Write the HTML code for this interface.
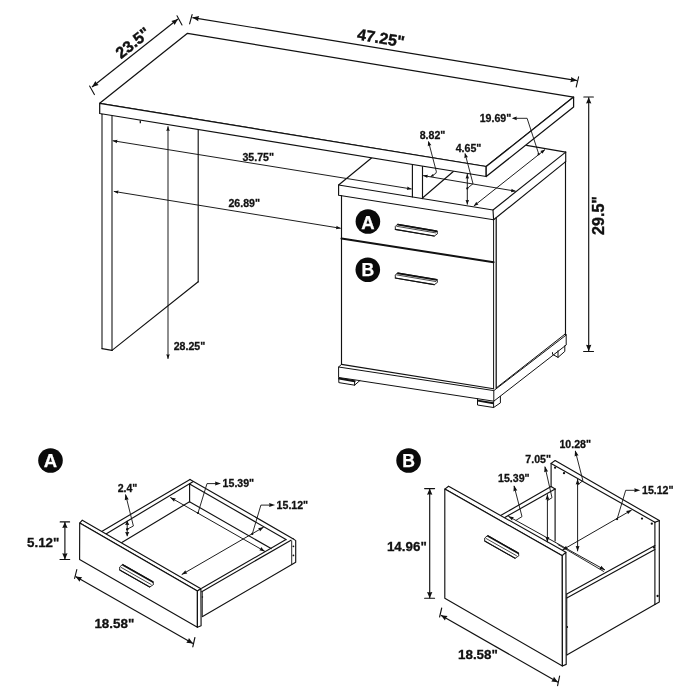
<!DOCTYPE html>
<html lang="en">
<head>
<meta charset="utf-8">
<title>Desk dimensions</title>
<style>
html,body{margin:0;padding:0;background:#fff;}
body{width:700px;height:700px;overflow:hidden;}
svg{display:block;will-change:transform;filter:grayscale(1);}
svg text{font-family:"Liberation Sans",sans-serif;font-weight:700;}
</style>
</head>
<body>
<svg width="700" height="700" viewBox="0 0 700 700">
<rect width="700" height="700" fill="#fff"/>
<path d="M371.8 157.8 L338.6 185 L493 210 L565.7 152.1" fill="none" stroke="#111" stroke-width="1.15" stroke-linejoin="round" stroke-linecap="round"/>
<path d="M338.6 185 L338.6 195.2 L493.6 219.8 L493 210" fill="none" stroke="#111" stroke-width="1.15" stroke-linejoin="round" stroke-linecap="round"/>
<path d="M493.6 219.8 L565.7 161.6 L565.7 152.1" fill="none" stroke="#111" stroke-width="1.15" stroke-linejoin="round" stroke-linecap="round"/>
<line x1="526.6" y1="145.4" x2="565.7" y2="152.1" stroke="#111" stroke-width="1.15" stroke-linecap="round"/>
<line x1="341.5" y1="195.66" x2="341.5" y2="364.4" stroke="#111" stroke-width="1.15" stroke-linecap="round"/>
<line x1="493.6" y1="219.8" x2="493.6" y2="388.8" stroke="#111" stroke-width="1" stroke-linecap="round"/>
<line x1="496.2" y1="217.8" x2="496.2" y2="388" stroke="#111" stroke-width="1.25" stroke-linecap="round"/>
<line x1="565.5" y1="161.6" x2="565.5" y2="334.5" stroke="#111" stroke-width="1.15" stroke-linecap="round"/>
<line x1="341.5" y1="238.6" x2="493.6" y2="262.2" stroke="#111" stroke-width="2" stroke-linecap="round"/>
<line x1="341.5" y1="364.4" x2="493.6" y2="388.8" stroke="#111" stroke-width="1.15" stroke-linecap="round"/>
<path d="M341.5 364.4 L338.6 367 L493.8 390.6 L566.2 335 L565.5 333.8" fill="none" stroke="#111" stroke-width="1" stroke-linejoin="round" stroke-linecap="round"/>
<line x1="496.2" y1="388" x2="565.4" y2="333.8" stroke="#111" stroke-width="1" stroke-linecap="round"/>
<path d="M338.6 367 L338.6 377.5 L359.8 380.6" fill="none" stroke="#111" stroke-width="1" stroke-linejoin="round" stroke-linecap="round"/>
<line x1="359.8" y1="380.7" x2="477.5" y2="398.7" stroke="#111" stroke-width="1" stroke-linecap="round"/>
<path d="M493.8 390.6 L493.8 401.2 L566.2 345 L566.2 335" fill="none" stroke="#111" stroke-width="1" stroke-linejoin="round" stroke-linecap="round"/>
<line x1="477.5" y1="398.7" x2="493.8" y2="401.2" stroke="#111" stroke-width="1" stroke-linecap="round"/>
<path d="M338.8 378 L338.8 382.6 L354.6 385.2 L359.8 380.6" fill="none" stroke="#111" stroke-width="1" stroke-linejoin="round" stroke-linecap="round"/>
<line x1="354.6" y1="381.6" x2="354.6" y2="385.2" stroke="#111" stroke-width="1" stroke-linecap="round"/>
<line x1="339.2" y1="378.6" x2="354.6" y2="381.2" stroke="#111" stroke-width="2" stroke-linecap="round"/>
<path d="M477.5 399.2 L477.5 405 L493.6 407.5 L500.4 402.9 L500.4 396.4" fill="none" stroke="#111" stroke-width="1" stroke-linejoin="round" stroke-linecap="round"/>
<line x1="493.6" y1="402" x2="493.6" y2="407.5" stroke="#111" stroke-width="1" stroke-linecap="round"/>
<line x1="478" y1="400.6" x2="493.4" y2="403.2" stroke="#111" stroke-width="1.9" stroke-linecap="butt"/>
<path d="M552.5 352.6 L552.5 354.3 L558 357.4 L564.8 351.4 L564.8 345.8" fill="none" stroke="#111" stroke-width="1" stroke-linejoin="round" stroke-linecap="round"/>
<line x1="558" y1="350.8" x2="558" y2="357.4" stroke="#111" stroke-width="1" stroke-linecap="round"/>
<line x1="412.4" y1="164.47" x2="412.4" y2="196.95" stroke="#111" stroke-width="1.15" stroke-linecap="round"/>
<line x1="422.5" y1="166.12" x2="422.5" y2="198.58" stroke="#111" stroke-width="1.15" stroke-linecap="round"/>
<line x1="422.5" y1="197.98" x2="453.6" y2="171.19" stroke="#111" stroke-width="1.15" stroke-linecap="round"/>
<line x1="102" y1="114.2" x2="102" y2="348.6" stroke="#222" stroke-width="1.15" stroke-linecap="round"/>
<line x1="112" y1="115.8" x2="112" y2="350.4" stroke="#222" stroke-width="1.15" stroke-linecap="round"/>
<line x1="102" y1="348.6" x2="112" y2="350.4" stroke="#111" stroke-width="1.15" stroke-linecap="round"/>
<line x1="112" y1="350.4" x2="198.2" y2="281.8" stroke="#111" stroke-width="1.15" stroke-linecap="round"/>
<line x1="198.2" y1="129.56" x2="198.2" y2="281.8" stroke="#111" stroke-width="1.15" stroke-linecap="round"/>
<path d="M99.7 103.3 L187.5 33.3 L573.6 97.1 L486.2 166.5 Z" fill="#fff" stroke="#111" stroke-width="1.25" stroke-linejoin="round" stroke-linecap="round"/>
<path d="M99.7 103.3 L99.7 113.5 L486.2 176.5 L486.2 166.5 Z" fill="#fff" stroke="#111" stroke-width="1.25" stroke-linejoin="round" stroke-linecap="round"/>
<path d="M486.2 166.5 L486.2 176.5 L573.6 107.1 L573.6 97.1 Z" fill="#fff" stroke="#111" stroke-width="1.25" stroke-linejoin="round" stroke-linecap="round"/>
<circle cx="367.9" cy="221.5" r="12.3" fill="#0a0a0a"/>
<text x="367.9" y="228.57" font-size="18.5" text-anchor="middle" fill="#fff" stroke="#fff" stroke-width="0.25">A</text>
<circle cx="367.8" cy="269.7" r="12.3" fill="#0a0a0a"/>
<text x="367.8" y="276.15" font-size="17.6" text-anchor="middle" fill="#fff" stroke="#fff" stroke-width="0.25">B</text>
<path d="M397.9 224.3 L436.9 230.9 L437.5 233.7 L434.3 236.1 L395.3 229.5 L395.3 226.9 Z" fill="#fff" stroke="#111" stroke-width="0.9" stroke-linejoin="round" stroke-linecap="round"/>
<line x1="397.9" y1="224.7" x2="436.9" y2="231.3" stroke="#111" stroke-width="1.7" stroke-linecap="round"/>
<line x1="396.7" y1="226.3" x2="435.7" y2="232.9" stroke="#333" stroke-width="0.9" stroke-linecap="round"/>
<line x1="395.3" y1="229.4" x2="434.3" y2="236" stroke="#111" stroke-width="1.1" stroke-linecap="round"/>
<path d="M397.9 272.9 L436.9 279.5 L437.5 282.3 L434.3 284.7 L395.3 278.1 L395.3 275.5 Z" fill="#fff" stroke="#111" stroke-width="0.9" stroke-linejoin="round" stroke-linecap="round"/>
<line x1="397.9" y1="273.3" x2="436.9" y2="279.9" stroke="#111" stroke-width="1.7" stroke-linecap="round"/>
<line x1="396.7" y1="274.9" x2="435.7" y2="281.5" stroke="#333" stroke-width="0.9" stroke-linecap="round"/>
<line x1="395.3" y1="278" x2="434.3" y2="284.6" stroke="#111" stroke-width="1.1" stroke-linecap="round"/>
<line x1="92" y1="87" x2="178" y2="19" stroke="#111" stroke-width="1.15" stroke-linecap="butt"/>
<polygon points="92,87 95.38,80.95 96.62,83.35 98.66,85.11" fill="#111"/>
<polygon points="178,19 174.62,25.05 173.38,22.65 171.34,20.89" fill="#111"/>
<line x1="89.6" y1="86" x2="94.4" y2="94.6" stroke="#111" stroke-width="1.1" stroke-linecap="round"/>
<line x1="177" y1="15.8" x2="182" y2="25" stroke="#111" stroke-width="1.1" stroke-linecap="round"/>
<text x="136.2" y="47.1" font-size="16.1" text-anchor="middle" fill="#111" stroke="#111" stroke-width="0.4" transform="rotate(-38.3 136.2 47.1)">23.5"</text>
<line x1="192.4" y1="17.6" x2="577" y2="80.6" stroke="#111" stroke-width="1.15" stroke-linecap="butt"/>
<polygon points="192.4,17.6 199.14,16.02 198.21,18.55 198.29,21.25" fill="#111"/>
<polygon points="577,80.6 570.26,82.18 571.19,79.65 571.11,76.95" fill="#111"/>
<line x1="192.1" y1="14.6" x2="189.6" y2="23.8" stroke="#111" stroke-width="1.15" stroke-linecap="round"/>
<line x1="578.6" y1="76.8" x2="576.2" y2="87" stroke="#111" stroke-width="1.1" stroke-linecap="round"/>
<text x="380" y="43.5" font-size="16.1" text-anchor="middle" fill="#111" stroke="#111" stroke-width="0.4" transform="rotate(9.5 380 43.5)">47.25"</text>
<line x1="588.7" y1="97.2" x2="588.7" y2="351.2" stroke="#111" stroke-width="1.15" stroke-linecap="butt"/>
<polygon points="588.7,97.2 591.35,103.6 588.7,103.09 586.05,103.6" fill="#111"/>
<polygon points="588.7,351.2 586.05,344.8 588.7,345.31 591.35,344.8" fill="#111"/>
<line x1="583.8" y1="97" x2="593.4" y2="97" stroke="#111" stroke-width="1.1" stroke-linecap="round"/>
<line x1="583.6" y1="351.5" x2="593.5" y2="351.5" stroke="#111" stroke-width="1.1" stroke-linecap="round"/>
<text x="604.4" y="215.5" font-size="16.1" text-anchor="middle" fill="#111" stroke="#111" stroke-width="0.4" transform="rotate(-90 604.4 215.5)">29.5"</text>
<line x1="168" y1="126.3" x2="168" y2="358.9" stroke="#111" stroke-width="0.95" stroke-linecap="butt"/>
<polygon points="168,126.3 169.75,130.9 168,130.53 166.25,130.9" fill="#111"/>
<polygon points="168,358.9 166.25,354.3 168,354.67 169.75,354.3" fill="#111"/>
<text x="173.7" y="350.2" font-size="10.6" text-anchor="start" fill="#111" stroke="#111" stroke-width="0.28">28.25"</text>
<line x1="140.3" y1="120.4" x2="140.3" y2="123.2" stroke="#111" stroke-width="1.3" stroke-linecap="butt"/>
<line x1="112.7" y1="140.7" x2="411.6" y2="189" stroke="#111" stroke-width="0.95" stroke-linecap="butt"/>
<polygon points="112.7,140.7 117.52,139.71 116.88,141.38 116.96,143.16" fill="#111"/>
<polygon points="411.6,189 406.78,189.99 407.42,188.32 407.34,186.54" fill="#111"/>
<text x="258.2" y="160.5" font-size="10.6" text-anchor="middle" fill="#111" stroke="#111" stroke-width="0.28">35.75"</text>
<line x1="113.8" y1="191.4" x2="340.7" y2="228.3" stroke="#111" stroke-width="0.95" stroke-linecap="butt"/>
<polygon points="113.8,191.4 118.62,190.41 117.98,192.08 118.06,193.87" fill="#111"/>
<polygon points="340.7,228.3 335.88,229.29 336.52,227.62 336.44,225.83" fill="#111"/>
<text x="244.2" y="206.6" font-size="10.6" text-anchor="middle" fill="#111" stroke="#111" stroke-width="0.28">26.89"</text>
<text x="432.5" y="138.6" font-size="10.6" text-anchor="middle" fill="#111" stroke="#111" stroke-width="0.28">8.82"</text>
<line x1="423.1" y1="175.6" x2="515.7" y2="191.2" stroke="#111" stroke-width="0.95" stroke-linecap="butt"/>
<polygon points="423.1,175.6 427.93,174.64 427.27,176.3 427.35,178.09" fill="#111"/>
<polygon points="515.7,191.2 510.87,192.16 511.53,190.5 511.45,188.71" fill="#111"/>
<path d="M428.6 142 L436.4 171.8 L435.8 173.4 L431.5 176.2" fill="none" stroke="#111" stroke-width="0.9" stroke-linejoin="round" stroke-linecap="round"/>
<polygon points="428.3,140.9 431.41,145.25 429.47,145.35 427.74,146.22" fill="#111"/>
<polygon points="430,177 432.92,173.97 433.25,175.27 434.14,176.26" fill="#111"/>
<text x="468.5" y="151.6" font-size="10.6" text-anchor="middle" fill="#111" stroke="#111" stroke-width="0.28">4.65"</text>
<line x1="467.3" y1="173.9" x2="467.3" y2="204.6" stroke="#111" stroke-width="0.95" stroke-linecap="butt"/>
<polygon points="467.3,173.9 469.05,178.5 467.3,178.13 465.55,178.5" fill="#111"/>
<polygon points="467.3,204.6 465.55,200 467.3,200.37 469.05,200" fill="#111"/>
<path d="M465.2 154 L473 183.7 L467.3 188.4" fill="none" stroke="#111" stroke-width="0.9" stroke-linejoin="round" stroke-linecap="round"/>
<polygon points="464.9,152.9 468.01,157.25 466.07,157.35 464.34,158.22" fill="#111"/>
<circle cx="467.3" cy="188.4" r="1.1" fill="#111"/>
<text x="495.5" y="122" font-size="10.6" text-anchor="middle" fill="#111" stroke="#111" stroke-width="0.28">19.69"</text>
<line x1="473.8" y1="206" x2="545" y2="149.6" stroke="#111" stroke-width="0.95" stroke-linecap="butt"/>
<polygon points="473.8,206 476.32,201.77 477.12,203.37 478.49,204.52" fill="#111"/>
<polygon points="545,149.6 542.48,153.83 541.68,152.23 540.31,151.08" fill="#111"/>
<path d="M514 118.3 L527.1 118.3 L538.6 153.6" fill="none" stroke="#111" stroke-width="0.9" stroke-linejoin="round" stroke-linecap="round"/>
<polygon points="511.8,118.3 516.8,116.4 516.4,118.3 516.8,120.2" fill="#111"/>
<circle cx="538.6" cy="154.2" r="1.1" fill="#111"/>
<circle cx="50.5" cy="460.5" r="12.3" fill="#0a0a0a"/>
<text x="50.5" y="467.07" font-size="18.5" text-anchor="middle" fill="#fff" stroke="#fff" stroke-width="0.25">A</text>
<line x1="101.7" y1="531.42" x2="190" y2="479.4" stroke="#111" stroke-width="1.15" stroke-linecap="round"/>
<line x1="106" y1="533.91" x2="192.9" y2="481.7" stroke="#111" stroke-width="1.15" stroke-linecap="round"/>
<line x1="121.4" y1="542.82" x2="189.5" y2="501.7" stroke="#111" stroke-width="1.15" stroke-linecap="round"/>
<line x1="189.6" y1="483.8" x2="189.6" y2="501.7" stroke="#111" stroke-width="1.15" stroke-linecap="round"/>
<line x1="190" y1="479.4" x2="293.4" y2="538.9" stroke="#111" stroke-width="1.15" stroke-linecap="round"/>
<line x1="189.6" y1="483.9" x2="286" y2="539.6" stroke="#111" stroke-width="1.15" stroke-linecap="round"/>
<line x1="189.5" y1="501.7" x2="271.1" y2="548.6" stroke="#111" stroke-width="1.15" stroke-linecap="round"/>
<line x1="286" y1="539.6" x2="201.7" y2="588.2" stroke="#111" stroke-width="1.15" stroke-linecap="round"/>
<line x1="291" y1="540.2" x2="201.7" y2="591.7" stroke="#111" stroke-width="1.15" stroke-linecap="round"/>
<path d="M293.4 538.9 L295.7 540.6 L295.7 562.3 L202.6 616.6" fill="none" stroke="#111" stroke-width="1.15" stroke-linejoin="round" stroke-linecap="round"/>
<line x1="291.7" y1="541" x2="291.7" y2="564.4" stroke="#111" stroke-width="0.9" stroke-linecap="round"/>
<line x1="202.3" y1="591.7" x2="202.3" y2="616.6" stroke="#111" stroke-width="0.9" stroke-linecap="round"/>
<circle cx="293.4" cy="546.3" r="0.9" fill="#111"/>
<circle cx="293.4" cy="555.4" r="0.9" fill="#111"/>
<circle cx="202.4" cy="597" r="0.8" fill="#111"/>
<circle cx="200.2" cy="620.4" r="0.8" fill="#111"/>
<path d="M79.7 523.1 L82.3 520.2 L200.9 588.8 L197.4 590.9 Z" fill="#fff" stroke="#111" stroke-width="1.15" stroke-linejoin="round" stroke-linecap="round"/>
<path d="M79.7 523.1 L197.4 590.9 L197.4 627.3 L79.6 559.6 Z" fill="#fff" stroke="#111" stroke-width="1.15" stroke-linejoin="round" stroke-linecap="round"/>
<path d="M197.4 590.9 L200.9 588.8 L201.1 625.8 L197.4 627.3 Z" fill="#fff" stroke="#111" stroke-width="1.15" stroke-linejoin="round" stroke-linecap="round"/>
<path d="M122.9 564.6 L152.9 581.7 L153.5 584.5 L149.7 587.1 L119.7 570 L119.7 567.4 Z" fill="#fff" stroke="#111" stroke-width="0.9" stroke-linejoin="round" stroke-linecap="round"/>
<line x1="122.9" y1="565" x2="152.9" y2="582.1" stroke="#111" stroke-width="1.7" stroke-linecap="round"/>
<line x1="121.1" y1="567.4" x2="151.1" y2="584.5" stroke="#333" stroke-width="0.9" stroke-linecap="round"/>
<line x1="119.7" y1="569.9" x2="149.7" y2="587" stroke="#111" stroke-width="1.1" stroke-linecap="round"/>
<line x1="64.9" y1="521.9" x2="64.9" y2="559.5" stroke="#111" stroke-width="1.15" stroke-linecap="butt"/>
<polygon points="64.9,521.9 67.55,528.1 64.9,527.6 62.25,528.1" fill="#111"/>
<polygon points="64.9,559.5 62.25,553.3 64.9,553.8 67.55,553.3" fill="#111"/>
<line x1="60.2" y1="521.9" x2="69.6" y2="521.9" stroke="#111" stroke-width="1.1" stroke-linecap="round"/>
<line x1="60" y1="559.5" x2="69.7" y2="559.5" stroke="#111" stroke-width="1.1" stroke-linecap="round"/>
<text x="27" y="546.9" font-size="13.4" text-anchor="start" fill="#111" stroke="#111" stroke-width="0.3">5.12"</text>
<line x1="75.5" y1="576.4" x2="193" y2="643.4" stroke="#111" stroke-width="1.15" stroke-linecap="butt"/>
<polygon points="75.5,576.4 82.2,577.17 80.46,579.23 79.57,581.77" fill="#111"/>
<polygon points="193,643.4 186.3,642.63 188.04,640.57 188.93,638.03" fill="#111"/>
<line x1="76.8" y1="569.6" x2="74.6" y2="578.4" stroke="#111" stroke-width="1.1" stroke-linecap="round"/>
<line x1="194.9" y1="637.5" x2="192.8" y2="646.8" stroke="#111" stroke-width="1.15" stroke-linecap="round"/>
<text x="94.4" y="628" font-size="13.4" text-anchor="start" fill="#111" stroke="#111" stroke-width="0.3">18.58"</text>
<text x="127.5" y="491.7" font-size="10.6" text-anchor="middle" fill="#111" stroke="#111" stroke-width="0.28">2.4"</text>
<line x1="127.2" y1="520.8" x2="127.2" y2="536.2" stroke="#111" stroke-width="0.95" stroke-linecap="butt"/>
<polygon points="127.2,520.8 129.3,525 127.2,524.66 125.1,525" fill="#111"/>
<polygon points="127.2,536.2 125.1,532 127.2,532.34 129.3,532" fill="#111"/>
<circle cx="127.2" cy="529.3" r="1.2" fill="#111"/>
<path d="M125.7 495 L133.4 526 L127.2 529.2" fill="none" stroke="#111" stroke-width="0.9" stroke-linejoin="round" stroke-linecap="round"/>
<polygon points="125.4,494 128.68,499.41 126.62,499.38 124.78,500.29" fill="#111"/>
<line x1="170.3" y1="497.4" x2="264.9" y2="551.4" stroke="#111" stroke-width="0.95" stroke-linecap="butt"/>
<polygon points="170.3,497.4 175.93,498.43 174.61,499.86 174.05,501.73" fill="#111"/>
<polygon points="264.9,551.4 259.27,550.37 260.59,548.94 261.15,547.07" fill="#111"/>
<circle cx="198" cy="513" r="1.1" fill="#111"/>
<path d="M198 513 L207 483.6 L217 483.6" fill="none" stroke="#111" stroke-width="0.9" stroke-linejoin="round" stroke-linecap="round"/>
<polygon points="221,483.6 215,485.6 215.48,483.6 215,481.6" fill="#111"/>
<text x="222.6" y="487.2" font-size="10.6" text-anchor="start" fill="#111" stroke="#111" stroke-width="0.28">15.39"</text>
<line x1="263.7" y1="527.1" x2="181.7" y2="574.6" stroke="#111" stroke-width="0.95" stroke-linecap="butt"/>
<polygon points="263.7,527.1 259.98,531.45 259.4,529.59 258.07,528.16" fill="#111"/>
<polygon points="181.7,574.6 185.42,570.25 186,572.11 187.33,573.54" fill="#111"/>
<circle cx="252.3" cy="533.9" r="1.1" fill="#111"/>
<path d="M252.3 533.9 L260.9 505.1 L271 505.1" fill="none" stroke="#111" stroke-width="0.9" stroke-linejoin="round" stroke-linecap="round"/>
<polygon points="275.1,505.1 269.1,507.1 269.58,505.1 269.1,503.1" fill="#111"/>
<text x="276.6" y="508.7" font-size="10.6" text-anchor="start" fill="#111" stroke="#111" stroke-width="0.28">15.12"</text>
<circle cx="408.6" cy="460.5" r="12.3" fill="#0a0a0a"/>
<text x="408.6" y="466.65" font-size="17.6" text-anchor="middle" fill="#fff" stroke="#fff" stroke-width="0.25">B</text>
<line x1="500.6" y1="515.5" x2="551.1" y2="486.6" stroke="#111" stroke-width="1.15" stroke-linecap="round"/>
<line x1="504.4" y1="517.64" x2="555.1" y2="489.1" stroke="#111" stroke-width="1.15" stroke-linecap="round"/>
<line x1="551.1" y1="486.6" x2="555.1" y2="489.1" stroke="#111" stroke-width="1.15" stroke-linecap="round"/>
<path d="M551.1 486.6 L551.1 463.4 L555.1 460.5 L659.3 520.6 L659.3 602 L654.9 604.4" fill="none" stroke="#111" stroke-width="1.15" stroke-linejoin="round" stroke-linecap="round"/>
<line x1="551.1" y1="463.4" x2="654.9" y2="522.2" stroke="#111" stroke-width="1.15" stroke-linecap="round"/>
<line x1="654.9" y1="522.2" x2="659.3" y2="520.6" stroke="#111" stroke-width="1.15" stroke-linecap="round"/>
<line x1="654.9" y1="522.2" x2="654.9" y2="604.4" stroke="#111" stroke-width="1.15" stroke-linecap="round"/>
<line x1="555.1" y1="489.1" x2="555.1" y2="541" stroke="#111" stroke-width="1.15" stroke-linecap="round"/>
<line x1="558" y1="544.6" x2="603.6" y2="571.4" stroke="#111" stroke-width="0.9" stroke-linecap="round"/>
<circle cx="555.1" cy="467.7" r="1.15" fill="#111"/>
<circle cx="564" cy="473.2" r="1.15" fill="#111"/>
<circle cx="642" cy="518.6" r="1.15" fill="#111"/>
<circle cx="651.8" cy="523.7" r="1.15" fill="#111"/>
<circle cx="654" cy="547.4" r="1.15" fill="#111"/>
<circle cx="657.6" cy="596" r="1.15" fill="#111"/>
<line x1="566.8" y1="594" x2="654.9" y2="545.6" stroke="#111" stroke-width="1.15" stroke-linecap="round"/>
<line x1="566.8" y1="598" x2="654.9" y2="549.6" stroke="#111" stroke-width="1.15" stroke-linecap="round"/>
<line x1="566.8" y1="655" x2="654.9" y2="604.4" stroke="#111" stroke-width="1.15" stroke-linecap="round"/>
<line x1="566.8" y1="594" x2="566.8" y2="655" stroke="#111" stroke-width="0.9" stroke-linecap="round"/>
<circle cx="567.2" cy="627" r="0.9" fill="#111"/>
<circle cx="565" cy="659" r="0.8" fill="#111"/>
<path d="M444.8 489.1 L448.6 486.2 L565.9 552.3 L562.3 555.7 Z" fill="#fff" stroke="#111" stroke-width="1.15" stroke-linejoin="round" stroke-linecap="round"/>
<path d="M444.8 489.1 L562.3 555.7 L562.4 666 L444.8 598.2 Z" fill="#fff" stroke="#111" stroke-width="1.15" stroke-linejoin="round" stroke-linecap="round"/>
<path d="M562.3 555.7 L565.9 552.3 L566.2 664.4 L562.4 666 Z" fill="#fff" stroke="#111" stroke-width="1.15" stroke-linejoin="round" stroke-linecap="round"/>
<path d="M487.9 535.7 L518.3 552.9 L518.9 555.7 L515.1 558.3 L484.7 541.1 L484.7 538.5 Z" fill="#fff" stroke="#111" stroke-width="0.9" stroke-linejoin="round" stroke-linecap="round"/>
<line x1="487.9" y1="536.1" x2="518.3" y2="553.3" stroke="#111" stroke-width="1.7" stroke-linecap="round"/>
<line x1="486.1" y1="538.5" x2="516.5" y2="555.7" stroke="#333" stroke-width="0.9" stroke-linecap="round"/>
<line x1="484.7" y1="541" x2="515.1" y2="558.2" stroke="#111" stroke-width="1.1" stroke-linecap="round"/>
<line x1="429.7" y1="488.6" x2="429.7" y2="598.2" stroke="#111" stroke-width="1.15" stroke-linecap="butt"/>
<polygon points="429.7,488.6 432.35,494.8 429.7,494.3 427.05,494.8" fill="#111"/>
<polygon points="429.7,598.2 427.05,592 429.7,592.5 432.35,592" fill="#111"/>
<line x1="424.6" y1="488.6" x2="434.6" y2="488.6" stroke="#111" stroke-width="1.1" stroke-linecap="round"/>
<line x1="424.6" y1="598.2" x2="434.6" y2="598.2" stroke="#111" stroke-width="1.1" stroke-linecap="round"/>
<text x="386.9" y="550.6" font-size="13.4" text-anchor="start" fill="#111" stroke="#111" stroke-width="0.3">14.96"</text>
<line x1="440.9" y1="615.2" x2="558" y2="682.2" stroke="#111" stroke-width="1.15" stroke-linecap="butt"/>
<polygon points="440.9,615.2 447.6,615.98 445.85,618.03 444.97,620.58" fill="#111"/>
<polygon points="558,682.2 551.3,681.42 553.05,679.37 553.93,676.82" fill="#111"/>
<line x1="441.7" y1="608" x2="439.6" y2="617" stroke="#111" stroke-width="1.15" stroke-linecap="round"/>
<line x1="559.6" y1="676" x2="557.6" y2="685.6" stroke="#111" stroke-width="1.15" stroke-linecap="round"/>
<text x="458" y="659.3" font-size="13.4" text-anchor="start" fill="#111" stroke="#111" stroke-width="0.3">18.58"</text>
<text x="513.8" y="482.3" font-size="10.6" text-anchor="middle" fill="#111" stroke="#111" stroke-width="0.28">15.39"</text>
<line x1="508.3" y1="516.2" x2="605" y2="570" stroke="#111" stroke-width="0.95" stroke-linecap="butt"/>
<polygon points="508.3,516.2 513.94,517.17 512.64,518.62 512.1,520.49" fill="#111"/>
<polygon points="605,570 599.36,569.03 600.66,567.58 601.2,565.71" fill="#111"/>
<path d="M514.2 486.4 L522 516.6 L516 520.3" fill="none" stroke="#111" stroke-width="0.9" stroke-linejoin="round" stroke-linecap="round"/>
<polygon points="513.9,485.2 517.33,490.52 515.27,490.55 513.45,491.51" fill="#111"/>
<text x="538.2" y="463.4" font-size="10.6" text-anchor="middle" fill="#111" stroke="#111" stroke-width="0.28">7.05"</text>
<line x1="547.4" y1="494.3" x2="547.4" y2="542.3" stroke="#111" stroke-width="0.95" stroke-linecap="butt"/>
<polygon points="547.4,494.3 549.3,499.7 547.4,499.27 545.5,499.7" fill="#111"/>
<polygon points="547.4,542.3 545.5,536.9 547.4,537.33 549.3,536.9" fill="#111"/>
<path d="M545.1 467.2 L552 497.7 L547.4 500.6" fill="none" stroke="#111" stroke-width="0.9" stroke-linejoin="round" stroke-linecap="round"/>
<polygon points="544.8,466 548.08,471.41 546.02,471.38 544.18,472.29" fill="#111"/>
<text x="575.2" y="448" font-size="10.6" text-anchor="middle" fill="#111" stroke="#111" stroke-width="0.28">10.28"</text>
<line x1="577.6" y1="479" x2="577.6" y2="551.3" stroke="#111" stroke-width="0.95" stroke-linecap="butt"/>
<polygon points="577.6,479 579.5,484.4 577.6,483.97 575.7,484.4" fill="#111"/>
<polygon points="577.6,551.3 575.7,545.9 577.6,546.33 579.5,545.9" fill="#111"/>
<path d="M575.4 451.4 L582.9 480.6 L577.7 484.9" fill="none" stroke="#111" stroke-width="0.9" stroke-linejoin="round" stroke-linecap="round"/>
<polygon points="575.1,450.2 578.53,455.52 576.47,455.55 574.65,456.51" fill="#111"/>
<line x1="631.7" y1="510" x2="562.4" y2="550" stroke="#111" stroke-width="0.95" stroke-linecap="butt"/>
<polygon points="631.7,510 627.97,514.35 627.4,512.48 626.07,511.05" fill="#111"/>
<polygon points="562.4,550 566.13,545.65 566.7,547.52 568.03,548.95" fill="#111"/>
<circle cx="617.1" cy="519.1" r="1.1" fill="#111"/>
<path d="M617.1 519.1 L625.7 490.3 L636 490.3" fill="none" stroke="#111" stroke-width="0.9" stroke-linejoin="round" stroke-linecap="round"/>
<polygon points="640.3,490.3 634.3,492.3 634.78,490.3 634.3,488.3" fill="#111"/>
<text x="642" y="493.6" font-size="10.6" text-anchor="start" fill="#111" stroke="#111" stroke-width="0.28">15.12"</text>
</svg>
</body>
</html>
